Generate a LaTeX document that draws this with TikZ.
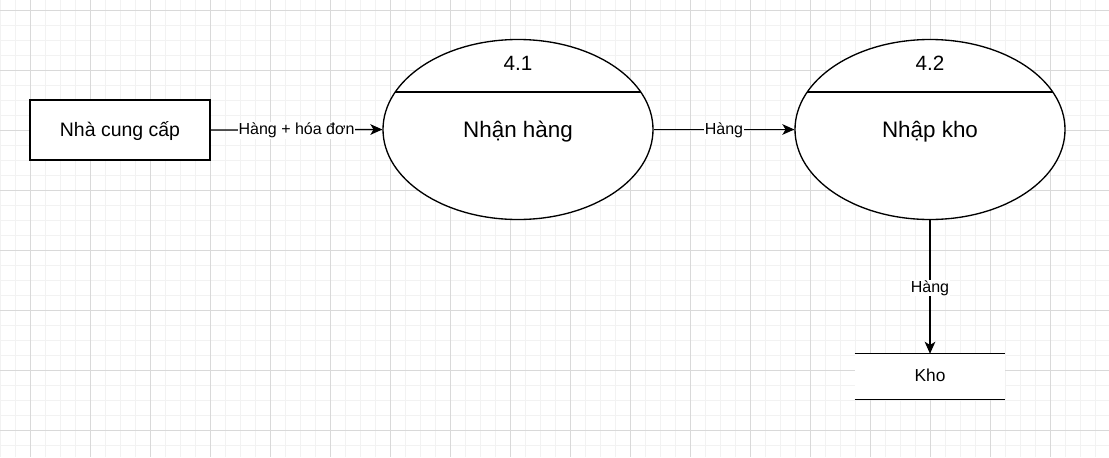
\documentclass[tikz,border=0pt]{standalone}
\usepackage{fontspec}
\setmainfont{Liberation Sans}
\usetikzlibrary{arrows.meta,shapes.geometric}
\begin{document}
\begin{tikzpicture}[x=0.75pt,y=-0.75pt,
  minorgrid/.style={draw=black!5, line width=0.75pt},
  majorgrid/.style={draw=black!15, line width=0.75pt},
  entity/.style={draw, fill=white, line width=1.1pt, minimum width=135pt, minimum height=45pt, inner sep=0pt},
  process/.style={ellipse, draw, fill=white, line width=1pt, minimum width=202.5pt, minimum height=135pt, inner sep=0pt},
  store/.style={fill=white, minimum width=112.5pt, minimum height=33.75pt, inner sep=0pt},
  flow/.style={line width=1pt, -{Stealth[length=9pt, width=8pt, inset=2.4pt]}},
  lbl/.style={fill=white, inner sep=0.6pt, font=\fontsize{12}{14}\selectfont},
  numtext/.style={anchor=base, font=\fontsize{15.5}{18}\selectfont},
  proctext/.style={anchor=base, font=\fontsize{16.8}{20}\selectfont},
  enttext/.style={anchor=base, font=\fontsize{14.6}{17}\selectfont},
  storetext/.style={anchor=base, font=\fontsize{13}{15}\selectfont}
]
\useasboundingbox (0,0) rectangle (1109,457);
\fill[white] (0,0) rectangle (1109,457);
% grid
\foreach \x in {0,15,...,1105} \draw[minorgrid] (\x,0) -- (\x,457);
\foreach \y in {10,25,...,455} \draw[minorgrid] (0,\y) -- (1109,\y);
\foreach \x in {30,90,...,1105} \draw[majorgrid] (\x,0) -- (\x,457);
\foreach \y in {10,70,...,455} \draw[majorgrid] (0,\y) -- (1109,\y);

% external entity
\node[entity] (e1) at (120,130) {};
\node[enttext] (e1t) at (120,136) {Nhà cung cấp};

% process 4.1
\node[process] (p1) at (518,129.5) {};
\draw[line width=1pt] (395.3,92) -- (640.7,92);
\node[numtext] (p1n) at (518,70) {4.1};
\node[proctext] (p1t) at (518,137.7) {Nhận hàng};

% process 4.2
\node[process] (p2) at (930,129.5) {};
\draw[line width=1pt] (807.3,92) -- (1052.7,92);
\node[numtext] (p2n) at (930,70) {4.2};
\node[proctext] (p2t) at (930,137.7) {Nhập kho};

% data store
\node[store] (kho) at (930,376.5) {};
\draw[line width=1pt] (kho.north west) -- (kho.north east);
\draw[line width=1pt] (kho.south west) -- (kho.south east);
\node[storetext] (khot) at (930,381.7) {Kho};

% flows
\draw[flow] (e1.east) -- node[lbl, anchor=base, yshift=-3.75pt] {Hàng + hóa đơn} (p1.west);
\draw[flow] (p1.east) -- node[lbl, anchor=base, yshift=-3.75pt] {Hàng} (p2.west);
\draw[flow] (p2.south) -- node[lbl, anchor=base, yshift=-4pt] {Hàng} (kho.north);
\end{tikzpicture}
\end{document}
